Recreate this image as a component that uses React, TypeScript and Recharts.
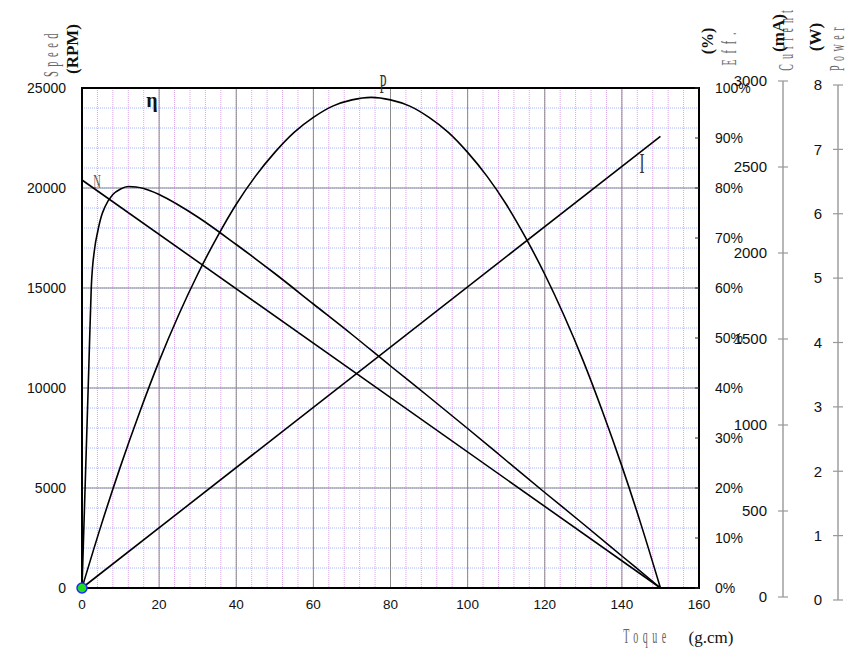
import React from "react";
import {
  ComposedChart,
  Line,
  XAxis,
  YAxis,
  CartesianGrid,
  ReferenceArea,
  ReferenceDot,
} from "recharts";

// axis ticks
const torqueTicks = [0, 20, 40, 60, 80, 100, 120, 140, 160];
const speedTicks = [0, 5000, 10000, 15000, 20000, 25000];
const effTicks = [0, 10, 20, 30, 40, 50, 60, 70, 80, 90, 100];
const currentTicks = [0, 500, 1000, 1500, 2000, 2500, 3000];
const powerTicks = [0, 1, 2, 3, 4, 5, 6, 7, 8];

// N (RPM) vs torque (g.cm)
const speedTorque = [0, 150];
const speedRpm = [20400, 0];

// I (mA) vs torque
const currentTorque = [0, 150];
const currentMa = [0, 2710];

// P (W) vs torque
const powerTorque = [
  0, 5, 10, 15, 20, 25, 30, 35, 40, 45, 50, 55, 60, 65, 70, 75, 80, 85, 90, 95,
  100, 105, 110, 115, 120, 125, 130, 135, 140, 145, 150,
];
const powerW = [
  0, 1.01, 1.95, 2.82, 3.63, 4.36, 5.02, 5.61, 6.14, 6.59, 6.97, 7.29, 7.53,
  7.71, 7.81, 7.85, 7.81, 7.71, 7.53, 7.29, 6.97, 6.59, 6.14, 5.61, 5.02, 4.36,
  3.63, 2.82, 1.95, 1.01, 0,
];

// efficiency (%) vs torque
const effTorque = [
  0, 0.6, 1.2, 1.8, 2.4, 3.3, 4, 5, 6, 8, 10, 12, 14, 16, 20, 25, 30, 40, 50,
  60, 70, 80, 90, 100, 110, 120, 130, 140, 150,
];
const effPct = [
  0, 15, 30, 45, 60, 68, 71, 74.3, 76.3, 78.7, 79.8, 80.3, 80.2, 79.9, 78.7,
  76.6, 74.2, 68.7, 62.9, 56.8, 50.7, 44.4, 38.2, 31.9, 25.5, 19.1, 12.8, 6.4,
  0,
];

// grid spacing
const minorX = Array.from({ length: 41 }, (_, i) => i * 4);
const minorY = Array.from({ length: 26 }, (_, i) => i * 1000);

const speedRows = speedTorque.map((t, i) => ({ t, v: speedRpm[i] }));
const currentRows = currentTorque.map((t, i) => ({ t, v: currentMa[i] }));
const powerRows = powerTorque.map((t, i) => ({ t, v: powerW[i] }));
const effRows = effTorque.map((t, i) => ({ t, v: effPct[i] }));

const SANS = "'Liberation Sans', Arial, sans-serif";
const SERIF = "'Liberation Serif', 'Times New Roman', serif";

const W = 865;
const H = 662;

function crossTick(fontSize: number) {
  return (props: any) => {
    const { x, y, payload } = props;
    return (
      <g>
        <line x1={x + 11} x2={x + 21} y1={y} y2={y} stroke="#999" strokeWidth={1.2} />
        <text x={x} y={y} dy="0.35em" textAnchor="end" fontSize={fontSize} fontFamily={SANS} fill="#111">
          {payload.value}
        </text>
      </g>
    );
  };
}

const effTick = (props: any) => {
  const { x, y, payload } = props;
  return (
    <g>
      <line x1={x - 20} x2={x - 16} y1={y} y2={y} stroke="#333" strokeWidth={1} />
      <text x={x} y={y} dy="0.35em" textAnchor="start" fontSize={14} fontFamily={SANS} fill="#111">
        {payload.value}%
      </text>
    </g>
  );
};

function Cond({
  x,
  y,
  rot = 0,
  size,
  sx = 1,
  ls = 0,
  fill = "#111",
  bold = false,
  central = false,
  children,
}: any) {
  return (
    <text
      transform={`translate(${x},${y}) rotate(${rot}) scale(${sx},1)`}
      fontSize={size}
      fontFamily={SERIF}
      fontWeight={bold ? "bold" : "normal"}
      letterSpacing={ls}
      fill={fill}
      textAnchor="middle"
      dominantBaseline={central ? "central" : "alphabetic"}
    >
      {children}
    </text>
  );
}

// extra value axis drawn beside the plot (its own vertical span)
function SideAxis({
  top,
  bottom,
  axisX,
  domain,
  ticks,
}: {
  top: number;
  bottom: number;
  axisX: number;
  domain: [number, number];
  ticks: number[];
}) {
  const rows = [
    { t: 0, v: domain[0] },
    { t: 1, v: domain[1] },
  ];
  return (
    <div style={{ position: "absolute", left: 0, top: 0 }}>
      <ComposedChart
        width={W}
        height={H}
        data={rows}
        margin={{ top, bottom: H - bottom, left: axisX - 60, right: 0 }}
      >
        <XAxis dataKey="t" type="number" domain={[0, 1]} hide />
        <YAxis
          type="number"
          domain={domain}
          ticks={ticks}
          width={60}
          tickSize={5}
          tickMargin={11}
          tickLine={false}
          axisLine={{ stroke: "#999", strokeWidth: 1.4 }}
          tick={crossTick(15)}
          interval={0}
        />
        <Line
          dataKey="v"
          stroke="none"
          dot={false}
          activeDot={false}
          isAnimationActive={false}
        />
      </ComposedChart>
    </div>
  );
}

export default function App() {
  return (
    <div
      style={{
        position: "fixed",
        left: 0,
        top: 0,
        width: W,
        height: H,
        background: "#fff",
      }}
    >
      <div style={{ position: "absolute", left: 0, top: 0 }}>
        <ComposedChart
          width={W}
          height={H}
          margin={{ top: 88, right: 106, bottom: 44, left: 0 }}
        >
          <XAxis
            dataKey="t"
            type="number"
            domain={[0, 160]}
            ticks={torqueTicks}
            interval={0}
            height={30}
            tickLine={false}
            axisLine={false}
            tickSize={6}
            tickMargin={5}
            tick={{ fontSize: 13.5, fill: "#111", fontFamily: SANS }}
          />
          <YAxis
            type="number"
            domain={[0, 25000]}
            ticks={speedTicks}
            interval={0}
            width={82}
            tickLine={false}
            axisLine={false}
            tickSize={6}
            tickMargin={10}
            tick={{ fontSize: 14, fill: "#111", fontFamily: SANS }}
          />
          <YAxis
            yAxisId="eff"
            orientation="right"
            type="number"
            domain={[0, 100]}
            ticks={effTicks}
            interval={0}
            width={60}
            tickLine={false}
            axisLine={false}
            tickSize={4}
            tickMargin={12}
            tick={effTick}
          />
          <YAxis yAxisId="cur" type="number" domain={[0, 3000]} hide />
          <YAxis yAxisId="pow" type="number" domain={[0, 8]} hide />

          <CartesianGrid
            horizontal={false}
            verticalValues={minorX}
            stroke="#dba6e4"
            strokeDasharray="1 1"
            strokeWidth={1}
          />
          <CartesianGrid
            vertical={false}
            horizontalValues={minorY}
            stroke="#a6b6ff"
            strokeDasharray="1 1"
            strokeWidth={1}
          />
          <CartesianGrid
            horizontal={false}
            verticalValues={torqueTicks}
            stroke="#8a8a8a"
            strokeWidth={1}
          />
          <CartesianGrid
            vertical={false}
            horizontalValues={speedTicks}
            stroke="#8a8a8a"
            strokeWidth={1}
          />

          <Line
            data={speedRows}
            dataKey="v"
            type="linear"
            stroke="#000"
            strokeWidth={1.6}
            dot={false}
            isAnimationActive={false}
          />
          <Line
            data={currentRows}
            dataKey="v"
            yAxisId="cur"
            type="linear"
            stroke="#000"
            strokeWidth={1.6}
            dot={false}
            isAnimationActive={false}
          />
          <Line
            data={powerRows}
            dataKey="v"
            yAxisId="pow"
            type="monotone"
            stroke="#000"
            strokeWidth={1.6}
            dot={false}
            isAnimationActive={false}
          />
          <Line
            data={effRows}
            dataKey="v"
            yAxisId="eff"
            type="monotone"
            stroke="#000"
            strokeWidth={1.6}
            dot={false}
            isAnimationActive={false}
          />

          <ReferenceArea
            x1={0}
            x2={160}
            y1={0}
            y2={25000}
            fill="none"
            fillOpacity={0}
            stroke="#000"
            strokeWidth={2}
            ifOverflow="visible"
          />
          <ReferenceDot
            x={0}
            y={0}
            r={5}
            fill="#1fdc1f"
            stroke="#1a2cff"
            strokeWidth={1.5}
            ifOverflow="visible"
          />
        </ComposedChart>
      </div>

      <SideAxis top={81} bottom={597} axisX={783} domain={[0, 3000]} ticks={currentTicks} />
      <SideAxis top={85} bottom={600} axisX={838} domain={[0, 8]} ticks={powerTicks} />

      <svg
        width={W}
        height={H}
        style={{ position: "absolute", left: 0, top: 0, pointerEvents: "none" }}
      >
        <Cond x={51} y={53} rot={-90} size={21} sx={0.5} ls={9} fill="#666" central>
          Speed
        </Cond>
        <Cond x={72} y={49} rot={-90} size={17} bold central>
          (RPM)
        </Cond>
        <Cond x={707} y={41} rot={-90} size={16} bold central>
          (%)
        </Cond>
        <Cond x={729} y={46} rot={-90} size={20} sx={0.5} ls={12} fill="#666" central>
          Eff.
        </Cond>
        <Cond x={786} y={38} rot={-90} size={20} sx={0.5} ls={10} fill="#666" central>
          Current
        </Cond>
        <Cond x={778} y={33} rot={-90} size={17} bold central>
          (mA)
        </Cond>
        <Cond x={815} y={37} rot={-90} size={17} bold central>
          (W)
        </Cond>
        <Cond x={837} y={47} rot={-90} size={20} sx={0.5} ls={9} fill="#666" central>
          Power
        </Cond>
        <Cond x={647} y={643} size={20} sx={0.5} ls={9} fill="#666">
          Toque
        </Cond>
        <Cond x={711} y={643} size={17}>
          (g.cm)
        </Cond>
        <Cond x={97} y={188} size={19} sx={0.55} fill="#555">
          N
        </Cond>
        <Cond x={383} y={93} size={27} sx={0.47} fill="#333">
          P
        </Cond>
        <Cond x={642} y={173} size={30} sx={0.5} fill="#333">
          I
        </Cond>
        <Cond x={152} y={107} size={20} bold>
          η
        </Cond>
      </svg>
    </div>
  );
}
